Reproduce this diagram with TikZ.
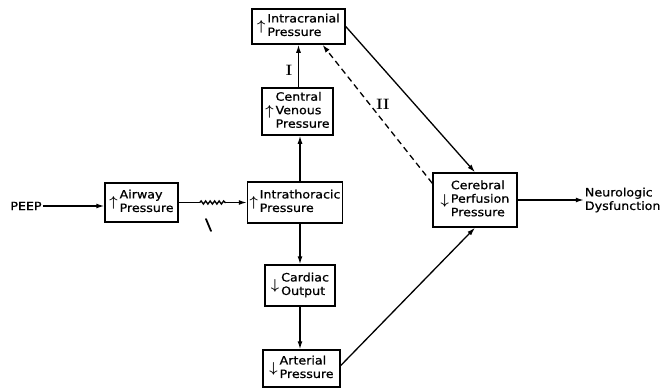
\documentclass[tikz,border=0pt]{standalone}
\usepackage{amsmath, amssymb}
\usepackage{fontspec}
\usepackage{tikz}
\usetikzlibrary{calc,arrows.meta,decorations.pathmorphing,positioning}
\newfontfamily\blockfont[FakeStretch=1.1,FakeBold=0.8]{DejaVu Sans}
\newcommand{\incr}[1]{\raisebox{-1pt}{\fontsize{15}{15}\selectfont$\boldsymbol{\uparrow}$}\,\begin{tabular}[c]{@{}l@{}}#1\end{tabular}}
\newcommand{\decr}[1]{\raisebox{-1pt}{\fontsize{15}{15}\selectfont$\boldsymbol{\downarrow}$}\,\begin{tabular}[c]{@{}l@{}}#1\end{tabular}}

\begin{document}
\begin{tikzpicture}[x=1pt,y=-1pt,node distance=5mm and 5mm]

\tikzset{pbox/.style={font=\blockfont\fontsize{11.5}{13.5}\selectfont,draw=black,line width=1.5pt,inner xsep=2pt,inner ysep=2pt,shape=rectangle},
plain/.style={font=\blockfont\fontsize{11.5}{13.5}\selectfont,inner sep=1pt,align=left},
numeral/.style={font=\rmfamily\bfseries\fontsize{15}{15}\selectfont,inner sep=1pt},
flow/.style={line width=1.3pt,-{Latex[length=8pt,width=5pt]}},
feedback/.style={flow,dash pattern=on 6pt off 4pt}}

\useasboundingbox (0,0) rectangle (661,388);

% boxes
\node[pbox,minimum width=73pt,minimum height=39pt] (airway) at (141.5,202.5) {\incr{Airway\\Pressure}};
\node[pbox,minimum width=94pt,minimum height=41pt] (thorax) at (295,202.5) {\incr{Intrathoracic\\Pressure}};
\node[pbox,minimum width=71pt,minimum height=47pt] (venous) at (297.5,111.5) {\incr{Central\\Venous\\Pressure}};
\node[pbox,minimum width=93pt,minimum height=35pt] (cranial) at (298.5,26.5) {\incr{Intracranial\\Pressure}};
\node[pbox,minimum width=70pt,minimum height=41pt] (cardiac) at (300,285.5) {\decr{Cardiac\\Output}};
\node[pbox,minimum width=77pt,minimum height=37pt] (arterial) at (301.5,368.5) {\decr{Arterial\\Pressure}};
\node[pbox,minimum width=84pt,minimum height=54pt] (cpp) at (475,200) {\decr{Cerebral\\Perfusion\\Pressure}};

% free texts
\node[plain] (peep) at (26,206) {PEEP};
\node[plain] (neuro) [right=66pt of cpp] {Neurologic\\Dysfunction};
\node[numeral] (one) at (289,70) {I};
\node[numeral] (two) at (383,104) {II};

% Edges
\draw[flow] (peep.east) -- (peep.east -| airway.west);
\coordinate (coilstart) at ($(airway.east)+(21,0)$);
\coordinate (coilend) at ($(coilstart)+(26,0)$);
\draw[line width=1.3pt] (airway.east) -- (coilstart);
\draw[line width=1.3pt,decorate,decoration={snake,amplitude=1.6pt,segment length=4.5pt}] (coilstart) -- (coilend);
\draw[flow] (coilend) -- (thorax.west);
\draw[line width=1.8pt,line cap=round] (206,219) -- (211,231); % stray mark

\draw[flow] (thorax.north -| cardiac) -- (venous.south -| cardiac);
\draw[flow] (venous.north -| cranial) -- (cranial.south);
\draw[flow] (thorax.south -| cardiac) -- (cardiac.north);
\draw[flow] (cardiac.south) -- (arterial.north -| cardiac);
\draw[flow] (cranial.east) -- (cpp.north);
\draw[flow] ($(arterial.east)+(0,-3)$) -- (cpp.south);
\draw[feedback] ($(cpp.north west)+(0,11)$) -- ($(cranial.south)+(24,0)$);
\draw[flow] (cpp.east) -- (neuro.west);

\end{tikzpicture}
\end{document}
